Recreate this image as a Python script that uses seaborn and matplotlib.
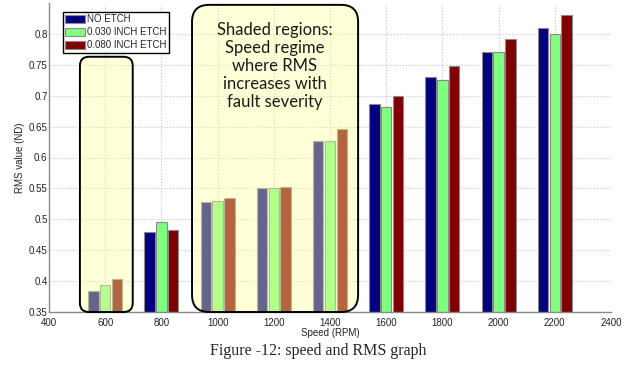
import numpy as np
import pandas as pd
import matplotlib
matplotlib.use('Agg')
import matplotlib.pyplot as plt
import seaborn as sns
from matplotlib.patches import FancyBboxPatch

speeds = [600, 800, 1000, 1200, 1400, 1600, 1800, 2000, 2200]
no_etch = [0.384, 0.479, 0.528, 0.550, 0.626, 0.687, 0.730, 0.770, 0.810]
etch_030 = [0.394, 0.496, 0.529, 0.551, 0.627, 0.682, 0.726, 0.770, 0.800]
etch_080 = [0.404, 0.482, 0.534, 0.553, 0.646, 0.700, 0.748, 0.792, 0.830]
series_names = ['NO ETCH', '0.030 INCH ETCH', '0.080 INCH ETCH']
colors = ['#000080', '#80FF80', '#800000']
x_ticks = [400, 600, 800, 1000, 1200, 1400, 1600, 1800, 2000, 2200, 2400]
y_ticks = [0.35, 0.4, 0.45, 0.5, 0.55, 0.6, 0.65, 0.7, 0.75, 0.8]

df = pd.DataFrame({
    'Speed': speeds * 3,
    'RMS': no_etch + etch_030 + etch_080,
    'Series': [n for n in series_names for _ in speeds],
})

sns.set_style('white')
plt.rcParams['font.family'] = ['Liberation Sans', 'DejaVu Sans']

W, H = 630, 370
fig = plt.figure(figsize=(W / 100, H / 100), dpi=100)
ax_l, ax_b, ax_w, ax_h = 49, 58, 562, 309
ax = fig.add_axes([ax_l / W, ax_b / H, ax_w / W, ax_h / H])

sns.barplot(data=df, x='Speed', y='RMS', hue='Series', hue_order=series_names,
            palette=colors, native_scale=True, width=0.63, gap=0.12,
            saturation=1, edgecolor='#8a8a8a', linewidth=0.8,
            errorbar=None, ax=ax)

xmin, xmax, ymin, ymax = 400, 2400, 0.35, 0.85
ax.set_xlim(xmin, xmax)
ax.set_ylim(ymin, ymax)
ax.set_xticks(x_ticks)
ax.set_yticks(y_ticks)
ax.set_xticklabels([str(t) for t in x_ticks])
ax.set_yticklabels([f'{t:g}' for t in y_ticks])
ax.set_axisbelow(True)
ax.grid(True, linestyle=':', color='#c4c4c4', linewidth=0.8)
for s in ['top', 'right']:
    ax.spines[s].set_visible(False)
for s in ['left', 'bottom']:
    ax.spines[s].set_color('#8a8a8a')
    ax.spines[s].set_linewidth(1.0)
ax.tick_params(direction='in', length=3, color='#8a8a8a', labelsize=7,
               labelcolor='#222222')
ax.tick_params(axis='y', pad=1)
ax.tick_params(axis='x', pad=4)
ax.set_xlabel('Speed (RPM)', fontsize=7, labelpad=0, color='#222222')
ax.set_ylabel('RMS value (ND)', fontsize=7, labelpad=3, color='#222222')

# shaded rounded regions
xpx = ax_w / (xmax - xmin)
ypx = ax_h / (ymax - ymin)
aspect = xpx / ypx


def shade(x0, x1, ytop, r_px):
    p = FancyBboxPatch((x0, ymin), x1 - x0, ytop - ymin,
                       boxstyle=f'round,pad=0,rounding_size={r_px / xpx}',
                       mutation_aspect=aspect,
                       facecolor=(1, 1, 0.62, 0.4), edgecolor='black',
                       linewidth=1.4, zorder=5, clip_on=False,
                       transform=ax.transData)
    ax.add_patch(p)


shade(510, 698, 0.763, 9)
shade(909, 1500, 0.847, 17)

ax.text(1204, 0.748, 'Shaded regions:\nSpeed regime\nwhere RMS\nincreases with\nfault severity',
        ha='center', va='center', fontsize=12, family=['Lato', 'DejaVu Sans'],
        linespacing=1.15, zorder=6, color='#1a1a1a')

handles, labels = ax.get_legend_handles_labels()
ax.legend(handles, labels, loc='upper left', bbox_to_anchor=(0.025, 0.971),
          fontsize=7, frameon=True, fancybox=False, edgecolor='black',
          framealpha=1, handlelength=2.0, handleheight=1.0, handletextpad=0.2,
          borderpad=0.25, labelspacing=0.3, borderaxespad=0, title=None)

fig.text(318 / W, 1 - 351 / H, 'Figure -12: speed and RMS graph',
         family=['Liberation Serif', 'DejaVu Serif'], fontsize=11.5,
         ha='center', va='center')

fig.savefig('out.png', dpi=100)
